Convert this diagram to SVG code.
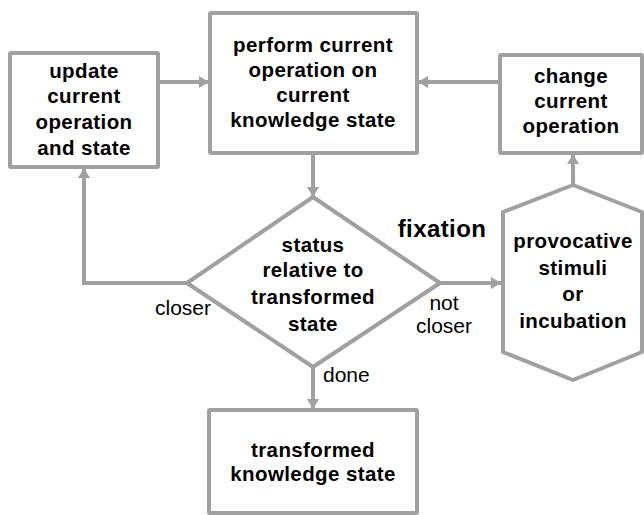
<svg xmlns="http://www.w3.org/2000/svg" width="644" height="515" viewBox="0 0 644 515">
<style>
.shape{fill:#fff;stroke:#a0a0a0;stroke-width:4;stroke-linejoin:round}
.line{fill:none;stroke:#a0a0a0;stroke-width:4}
.b{font-family:"Liberation Sans",Arial,sans-serif;font-weight:bold;font-size:20.5px;letter-spacing:0.4px;fill:#000;text-anchor:middle}
.n{font-family:"Liberation Sans",Arial,sans-serif;font-size:21px;fill:#000;text-anchor:middle}
</style>
<defs>
<marker id="ah" viewBox="0 0 10 12" refX="10" refY="6" markerWidth="2.6" markerHeight="3.2" orient="auto" markerUnits="strokeWidth">
<path d="M0,0 L10,6 L0,12 z" fill="#a0a0a0"/>
</marker>
</defs>
<g id="connectors">
<line class="line" x1="158" y1="82" x2="209" y2="82" marker-end="url(#ah)"/>
<line class="line" x1="500" y1="82" x2="418" y2="82" marker-end="url(#ah)"/>
<line class="line" x1="313" y1="153" x2="313" y2="197" marker-end="url(#ah)"/>
<polyline class="line" points="187,283 84,283 84,168" marker-end="url(#ah)"/>
<line class="line" x1="440" y1="283" x2="501" y2="283" marker-end="url(#ah)"/>
<line class="line" x1="573" y1="185" x2="573" y2="154" marker-end="url(#ah)"/>
<line class="line" x1="313" y1="367" x2="313" y2="409" marker-end="url(#ah)"/>
</g>
<g id="update">
<rect class="shape" x="10" y="53" width="148" height="114" rx="1"/>
<text class="b" x="84" y="78">update</text>
<text class="b" x="84" y="103">current</text>
<text class="b" x="84" y="129">operation</text>
<text class="b" x="84" y="155">and state</text>
</g>
<g id="perform">
<rect class="shape" x="210" y="13" width="207" height="140" rx="1"/>
<text class="b" x="313" y="52">perform current</text>
<text class="b" x="313" y="77">operation on</text>
<text class="b" x="313" y="102">current</text>
<text class="b" x="313" y="127">knowledge state</text>
</g>
<g id="change">
<rect class="shape" x="500" y="55" width="142" height="98" rx="1"/>
<text class="b" x="571" y="83">change</text>
<text class="b" x="571" y="108">current</text>
<text class="b" x="571" y="133">operation</text>
</g>
<g id="status">
<polygon class="shape" points="313,197 440,283 313,367 187,283"/>
<text class="b" x="313" y="252">status</text>
<text class="b" x="313" y="277">relative to</text>
<text class="b" x="313" y="304">transformed</text>
<text class="b" x="313" y="331">state</text>
</g>
<g id="provocative">
<polygon class="shape" points="573,185 642,212 642,352 573,380 503,352 503,212"/>
<text class="b" x="573" y="248">provocative</text>
<text class="b" x="573" y="275">stimuli</text>
<text class="b" x="573" y="301">or</text>
<text class="b" x="573" y="328">incubation</text>
</g>
<g id="transformed">
<rect class="shape" x="209" y="410" width="208" height="103" rx="1"/>
<text class="b" x="313" y="457">transformed</text>
<text class="b" x="313" y="481">knowledge state</text>
</g>
<g id="labels">
<text class="b" x="442" y="237" style="font-size:24px">fixation</text>
<text class="n" x="183" y="315">closer</text>
<text class="n" x="444" y="310">not</text>
<text class="n" x="444" y="333">closer</text>
<text class="n" x="323" y="382" style="text-anchor:start">done</text>
</g>
</svg>
